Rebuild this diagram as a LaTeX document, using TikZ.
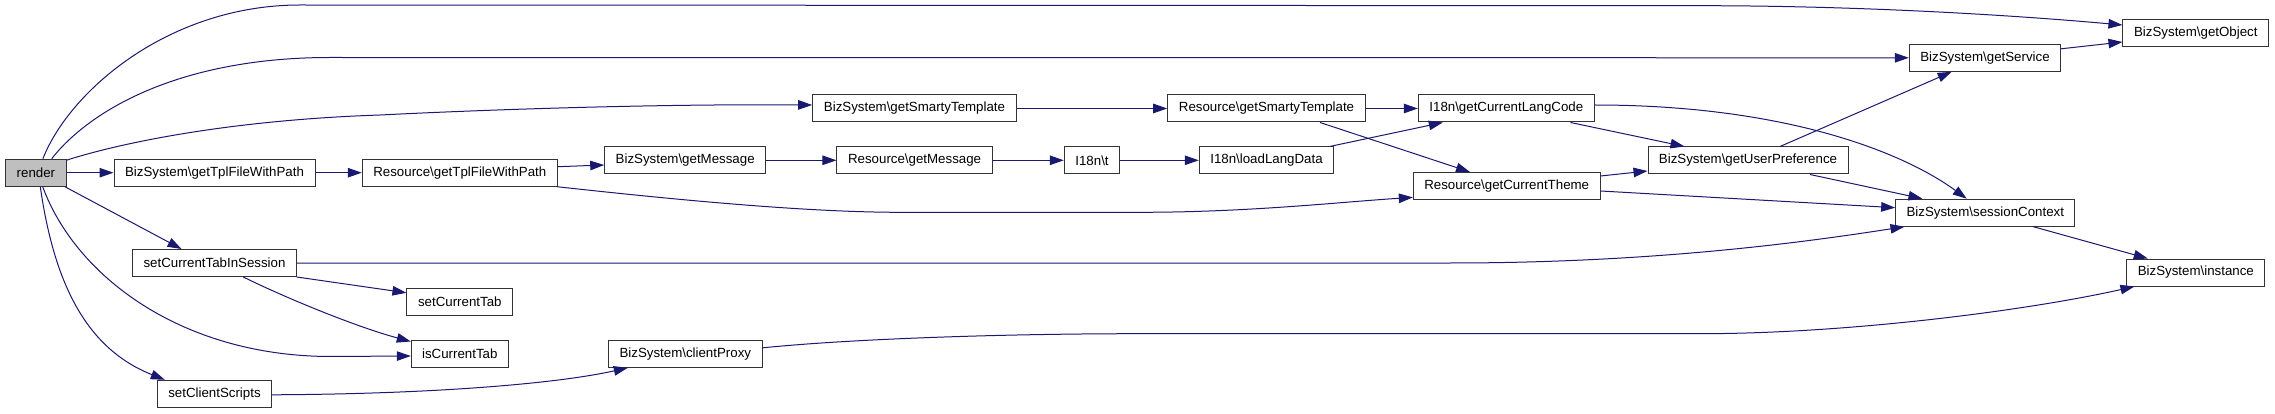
\documentclass[tikz,border=0pt]{standalone}
\usepackage{fontspec}
\setmainfont{Liberation Sans}
\usetikzlibrary{arrows.meta}
\definecolor{edgecol}{RGB}{25,25,112}
\definecolor{rootfill}{RGB}{191,191,191}
\begin{document}
\begin{tikzpicture}[x=1pt,y=-1pt,
  fn/.style={draw=black!80, line width=1pt, fill=white, minimum height=27pt, inner sep=0pt,
    font=\fontsize{13.3}{16}\selectfont},
  call/.style={draw=edgecol, line width=1pt, -{Triangle[length=14pt,width=9.5pt]}, edgecol}]
\useasboundingbox (0,0) rectangle (2275,414);
\fill[white] (0,0) rectangle (2275,414);
% nodes
\node[fn, fill=rootfill, minimum width=60.3pt] (render) at (35.9,172.7) {render};
\node[fn, minimum width=201pt] (tplA) at (214.5,172.7) {BizSystem\textbackslash getTplFileWithPath};
\node[fn, minimum width=195pt] (tplB) at (459.8,172.7) {Resource\textbackslash getTplFileWithPath};
\node[fn, minimum width=163.6pt] (ctis) at (214.5,263) {setCurrentTabInSession};
\node[fn, minimum width=105.7pt] (sct) at (459.8,301.8) {setCurrentTab};
\node[fn, minimum width=97pt] (ict) at (459.8,353.8) {isCurrentTab};
\node[fn, minimum width=114.4pt] (scs) at (214.5,393.8) {setClientScripts};
\node[fn, minimum width=154pt] (cp) at (685.3,353.8) {BizSystem\textbackslash clientProxy};
\node[fn, minimum width=161pt] (gm) at (685.2,160.3) {BizSystem\textbackslash getMessage};
\node[fn, minimum width=203.6pt] (gst) at (914.5,108.5) {BizSystem\textbackslash getSmartyTemplate};
\node[fn, minimum width=155.3pt] (rgm) at (914.6,160.3) {Resource\textbackslash getMessage};
\node[fn, minimum width=55.4pt] (t) at (1092,160.3) {I18n\textbackslash t};
\node[fn, minimum width=197.6pt] (rst) at (1266.5,108.5) {Resource\textbackslash getSmartyTemplate};
\node[fn, minimum width=134.4pt] (lld) at (1266.5,160.3) {I18n\textbackslash loadLangData};
\node[fn, minimum width=176pt] (lc) at (1506.3,108.5) {I18n\textbackslash getCurrentLangCode};
\node[fn, minimum width=186.7pt] (ct) at (1506.7,186) {Resource\textbackslash getCurrentTheme};
\node[fn, minimum width=200pt] (up) at (1748,160.5) {BizSystem\textbackslash getUserPreference};
\node[fn, minimum width=151.4pt] (gs) at (1985,57.8) {BizSystem\textbackslash getService};
\node[fn, minimum width=145.7pt] (go) at (2195.8,32.7) {BizSystem\textbackslash getObject};
\node[fn, minimum width=179.3pt] (sc) at (1985.3,212.7) {BizSystem\textbackslash sessionContext};
\node[fn, minimum width=138.3pt] (in) at (2195.8,272.5) {BizSystem\textbackslash instance};
% edges from render
\draw[call] ([xshift=7pt]render.north) .. controls (70,90) and (170,5) .. (300,5)
  -- (1700,5.7) .. controls (1850,5.7) and (2000,14) .. ([yshift=7.7pt]go.west);
\draw[call] ([xshift=15.8pt]render.north) .. controls (90,110) and (180,57.5) .. (330,57.5)
  -- (gs.west);
\draw[call] ([yshift=-1.5pt]render.north east) .. controls (120,143) and (230,120) .. (380,115)
  .. controls (520,108) and (680,104) .. ([yshift=3.5pt]gst.west);
\draw[call] (render) -- (tplA);
\draw[call] ([xshift=-1.7pt]render.south east) -- ([xshift=-33pt]ctis.north);
\draw[call] ([xshift=6.8pt]render.south) .. controls (75,275) and (180,356) .. (330,356.5)
  -- ([yshift=-2.2pt]ict.west);
\draw[call] ([xshift=4.4pt]render.south) .. controls (55,290) and (90,350) .. ([xshift=8pt]scs.north west);
% second level
\draw[call] (tplA) -- (tplB);
\draw[call] ([yshift=6pt]tplB.east) -- ([yshift=-4.7pt]gm.west);
\draw[call] ([xshift=-1pt]tplB.south east) .. controls (660,198) and (800,212.3) .. (900,212.3)
  -- (1140,212.3) .. controls (1250,212.3) and (1340,202) .. ([yshift=2.6pt]ct.south west);
\draw[call] (gm) -- (rgm);
\draw[call] (rgm) -- (t);
\draw[call] (t) -- (lld);
\draw[call] (gst) -- (rst);
\draw[call] (rst) -- (lc);
\draw[call] ([xshift=53.5pt]rst.south) -- ([xshift=-36.7pt]ct.north);
\draw[call] ([xshift=-3.7pt]lld.north east) -- ([xshift=25pt]lc.south west);
\draw[call] ([xshift=-24.3pt]lc.south east) -- ([xshift=37pt]up.north west);
\draw[call] ([yshift=3.5pt]lc.east) .. controls (1780,105) and (1900,150) .. ([xshift=-18.6pt]sc.north);
\draw[call] ([yshift=10pt]ct.east) -- ([yshift=-10.5pt]up.west);
\draw[call] ([yshift=-5pt]ct.east) -- ([yshift=5pt]sc.west);
\draw[call] ([xshift=32pt]up.north) -- ([xshift=-33.3pt]gs.south);
\draw[call] ([xshift=62pt]up.south) -- ([xshift=27.3pt]sc.north west);
\draw[call] ([yshift=9pt]gs.east) -- ([yshift=-9.3pt]go.west);
\draw[call] ([xshift=48pt]sc.south) -- ([xshift=21.6pt]in.north west);
\draw[call] (ctis.east) -- (1450,263) .. controls (1650,263) and (1800,243) .. ([xshift=9.3pt]sc.south west);
\draw[call] (ctis.south east) -- ([yshift=-5pt]sct.north west);
\draw[call] ([xshift=28.8pt]ctis.south) .. controls (290,300) and (360,328) .. ([yshift=-1.7pt]ict.north west);
\draw[call] ([yshift=-1pt]scs.east) .. controls (440,394) and (560,383) .. ([xshift=20pt]cp.south west);
\draw[call] ([yshift=6pt]cp.east) .. controls (850,339) and (1000,333.7) .. (1140,333.7)
  -- (1700,333.7) .. controls (1850,333.7) and (2030,310) .. ([xshift=8.3pt]in.south west);
\end{tikzpicture}
\end{document}
